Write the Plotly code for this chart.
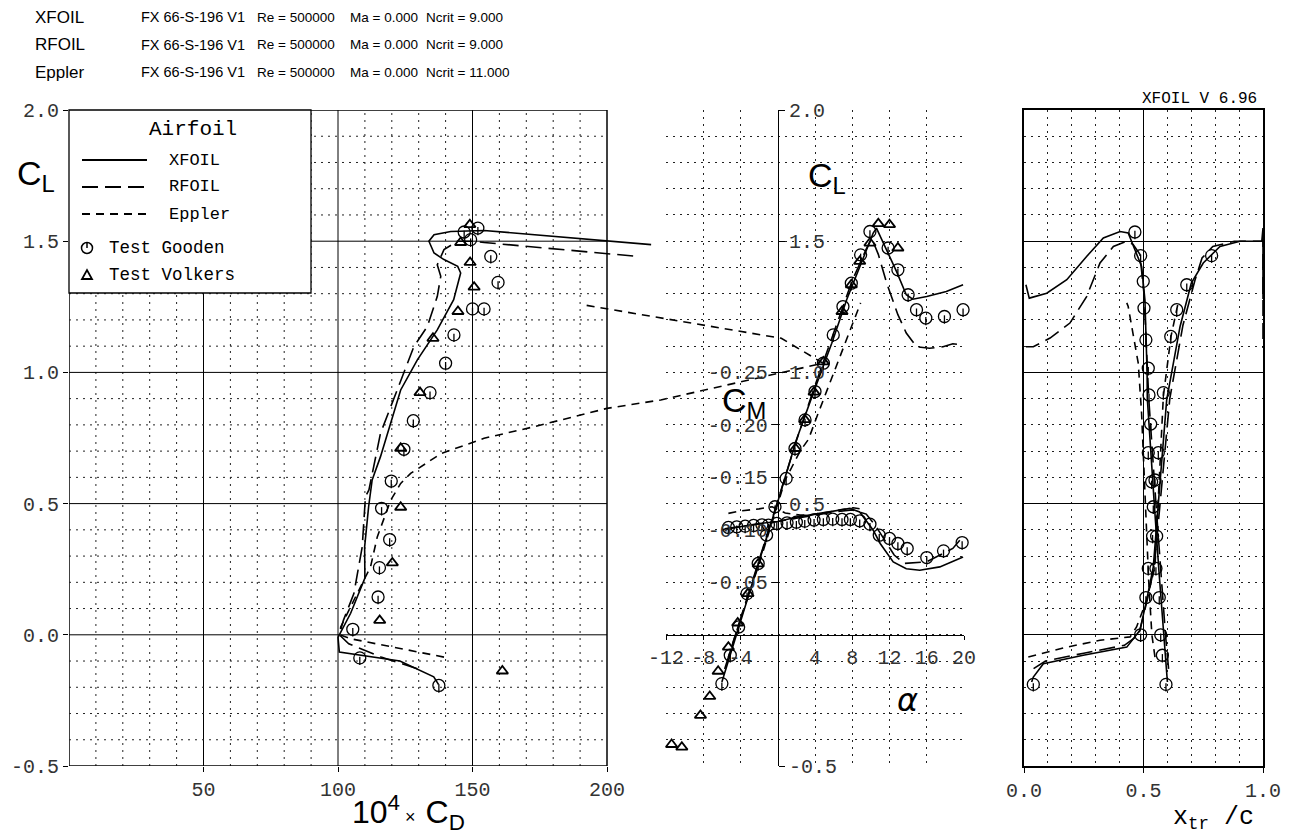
import plotly.graph_objects as go

# the page places the figure 8 px in from the top-left corner; positions below are page pixels
OFF = 8
W, H = 1290 - OFF, 836 - OFF
def fx(p): return (p - OFF) / W
def fy(p): return 1 - (p - OFF) / H

# ---------------- header data ----------------
codes = ["XFOIL", "RFOIL", "Eppler"]
airfoil = "FX 66-S-196 V1"
reynolds = [500000, 500000, 500000]
mach = [0.0, 0.0, 0.0]
ncrit = [9.0, 9.0, 11.0]
version = "XFOIL V 6.96"

# ---------------- drag polar (10^4 CD vs CL) ----------------
xfoil_cd = [137.4, 135.6, 123.0, 107.8, 100.5, 100.0, 104.7, 110.0, 109.9, 111.4, 112.7, 115.8, 120.2, 123.3,
            129.5, 136.9, 143.0, 145.6, 144.5, 139.4, 135.7, 133.8, 135.7, 141.9, 154.3, 200.0, 216.4]
xfoil_cl_d = [-0.19, -0.16, -0.10, -0.077, -0.066, -0.01, 0.082, 0.216, 0.335, 0.49, 0.59, 0.679, 0.83, 0.933,
              1.048, 1.162, 1.277, 1.379, 1.404, 1.43, 1.455, 1.50, 1.525, 1.537, 1.541, 1.50, 1.487]
rfoil_cd = [129.5, 116.0, 104.0, 100.5, 102.0, 105.9, 109.0, 110.2, 111.5, 115.8, 122.0, 128.2, 133.2, 136.9,
            138.2, 136.9, 139.4, 144.4, 150.6, 154.3, 211.4]
rfoil_cl_d = [-0.129, -0.085, -0.034, 0.0, 0.055, 0.157, 0.335, 0.526, 0.552, 0.768, 0.933, 1.098, 1.175, 1.289,
              1.366, 1.41, 1.468, 1.50, 1.50, 1.495, 1.442]
eppler_cd = [139.4, 104.7, 100.8, 101.0, 106.5, 112.1, 114.6, 117.0, 119.6, 123.3, 127.0, 138.2, 154.3, 172.9,
             200.0, 220.0, 280.3, 264.8, 212.7, 191.0]
eppler_cl_d = [-0.085, -0.015, 0.0, 0.03, 0.144, 0.259, 0.373, 0.437, 0.513, 0.577, 0.615, 0.69, 0.749, 0.793,
               0.863, 0.895, 1.035, 1.13, 1.219, 1.258]
gooden_cd = [137.5, 108.1, 105.5, 114.9, 115.4, 119.2, 116.2, 119.8, 124.5, 128.0, 134.2, 140.0, 143.1, 150.0,
             154.3, 159.5, 156.8, 149.3, 146.9, 152.0]
gooden_cl_d = [-0.193, -0.088, 0.021, 0.144, 0.256, 0.363, 0.482, 0.586, 0.707, 0.816, 0.923, 1.035, 1.143, 1.242,
               1.242, 1.343, 1.442, 1.506, 1.535, 1.55]
volkers_cd = [161.1, 115.5, 120.2, 123.3, 123.3, 130.5, 135.3, 144.6, 150.6, 149.1, 145.6, 149.0]
volkers_cl_d = [-0.138, 0.055, 0.274, 0.486, 0.711, 0.923, 1.13, 1.232, 1.325, 1.419, 1.495, 1.563]

# ---------------- lift curve (alpha vs CL) ----------------
xfoil_alpha = [-6.0, -4.0, -2.0, 0.0, 2.0, 3.8, 5.8, 7.4, 9.0, 10.25, 10.6, 11.5, 12.75, 13.8, 14.5, 16.0, 18.1, 19.9]
xfoil_cl = [-0.18, 0.055, 0.28, 0.507, 0.742, 0.92, 1.111, 1.277, 1.423, 1.531, 1.55, 1.48, 1.385, 1.296, 1.279,
            1.289, 1.308, 1.334]
rfoil_alpha = [-5.7, -4.0, -2.0, 0.0, 2.0, 4.0, 6.0, 8.0, 9.5, 10.1, 10.8, 11.7, 12.9, 13.8, 14.9, 16.3, 17.75,
               18.8, 19.7]
rfoil_cl = [-0.13, 0.06, 0.29, 0.51, 0.74, 0.95, 1.15, 1.35, 1.47, 1.51, 1.45, 1.34, 1.22, 1.15, 1.098, 1.092,
            1.098, 1.109, 1.105]
eppler_alpha = [-5.3, -4.0, -2.0, -0.6, 0.8, 2.4, 3.3, 4.2, 5.5, 6.7, 8.1, 8.9]
eppler_cl = [-0.085, 0.06, 0.27, 0.43, 0.59, 0.70, 0.745, 0.831, 0.95, 1.06, 1.188, 1.265]
gooden_alpha = [-6.0, -5.1, -4.2, -3.3, -2.1, -1.2, -0.3, 0.9, 1.85, 2.93, 4.0, 4.9, 5.96, 7.0, 7.9, 8.9, 9.9,
                11.85, 12.9, 14.0, 14.9, 15.9, 17.9, 19.9]
gooden_cl = [-0.186, -0.078, 0.03, 0.157, 0.272, 0.38, 0.488, 0.596, 0.71, 0.819, 0.927, 1.035, 1.143, 1.251,
             1.34, 1.448, 1.537, 1.474, 1.391, 1.296, 1.239, 1.207, 1.213, 1.239]
volkers_alpha = [-11.4, -10.3, -8.3, -7.3, -6.4, -5.3, -4.3, -3.2, -2.1, 1.9, 2.9, 3.9, 4.9, 6.9, 7.9, 8.8, 9.9,
                 10.8, 12.0, 12.9]
volkers_cl = [-0.418, -0.428, -0.307, -0.235, -0.139, -0.047, 0.045, 0.157, 0.27, 0.71, 0.82, 0.925, 1.04, 1.232,
              1.334, 1.423, 1.493, 1.567, 1.563, 1.474]

# ---------------- moment curve (alpha vs CM) ----------------
xfoil_alpha_m = [-6.0, -4.0, -2.0, 0.0, 2.0, 4.0, 6.0, 7.75, 8.8, 10.25, 11.0, 12.4, 13.8, 15.25, 17.4, 19.9]
xfoil_cm = [-0.100, -0.103, -0.106, -0.108, -0.112, -0.115, -0.118, -0.1204, -0.117, -0.0997, -0.087, -0.0695,
            -0.063, -0.0615, -0.0647, -0.0742]
rfoil_alpha_m = [-5.7, -4.0, -2.0, 0.0, 2.0, 4.0, 6.0, 8.0, 9.5, 10.5, 11.5, 12.5, 13.6, 16.0, 18.8, 20.0]
rfoil_cm = [-0.101, -0.103, -0.106, -0.108, -0.111, -0.114, -0.117, -0.119, -0.115, -0.104, -0.09, -0.076,
            -0.068, -0.0695, -0.0823, -0.0949]
eppler_cm = [-0.1157, -0.118, -0.120, -0.122, -0.116, -0.114, -0.114, -0.115, -0.117, -0.119, -0.121, -0.120]
gooden_alpha_m = [-5.3, -4.4, -3.5, -2.6, -1.7, -1.0, -0.1, 1.0, 2.0, 2.9, 3.9, 4.9, 5.9, 6.9, 7.8, 8.8, 9.9,
                  10.9, 12.0, 12.9, 13.9, 16.0, 17.8, 19.8]
gooden_cm = [-0.1023, -0.1029, -0.1035, -0.1042, -0.1048, -0.1045, -0.1061, -0.1067, -0.1073, -0.1083, -0.1093,
             -0.1099, -0.1102, -0.1099, -0.1099, -0.1086, -0.1054, -0.0949, -0.0918, -0.0870, -0.0822, -0.0736,
             -0.0800, -0.0879]

# ---------------- transition (xtr/c vs CL) ----------------
xfoil_top_cl = [-0.18, 0.0, 0.25, 0.5, 0.75, 0.9, 1.0, 1.124, 1.277, 1.404, 1.468, 1.531, 1.537, 1.512, 1.442,
                1.353, 1.302, 1.283, 1.334]
xfoil_top_xtr = [0.60, 0.584, 0.564, 0.545, 0.527, 0.516, 0.515, 0.511, 0.506, 0.492, 0.464, 0.436, 0.402, 0.332,
                 0.262, 0.179, 0.095, 0.022, 0.008]
xfoil_bot_cl = [-0.18, -0.161, -0.11, -0.078, -0.047, 0.017, 0.132, 0.259, 0.5, 0.895, 1.175, 1.34, 1.417, 1.48,
                1.50, 1.50, 1.55, 1.28, 1.334]
xfoil_bot_xtr = [0.032, 0.039, 0.081, 0.248, 0.43, 0.485, 0.513, 0.541, 0.562, 0.597, 0.653, 0.70, 0.75, 0.82,
                 0.904, 0.995, 1.0, 1.0, 1.0]
rfoil_top_cl = [-0.13, 0.0, 0.5, 0.9, 1.1, 1.3, 1.45, 1.487, 1.50, 1.48, 1.417, 1.289, 1.188, 1.131, 1.098, 1.098]
rfoil_top_xtr = [0.605, 0.592, 0.552, 0.522, 0.512, 0.502, 0.485, 0.457, 0.43, 0.374, 0.318, 0.262, 0.192, 0.109,
                 0.039, 0.008]
rfoil_bot_cl = [-0.129, -0.10, -0.07, -0.04, 0.0, 0.13, 0.26, 0.9, 1.18, 1.35, 1.436, 1.48, 1.50, 1.50, 1.277,
                1.093]
rfoil_bot_xtr = [0.04, 0.09, 0.25, 0.42, 0.48, 0.515, 0.545, 0.61, 0.665, 0.715, 0.745, 0.79, 0.88, 1.0, 1.0, 1.0]
eppler_top_cl = [-0.085, 0.0, 0.2, 0.5, 0.844, 1.035, 1.15, 1.251, 1.265]
eppler_top_xtr = [0.548, 0.535, 0.522, 0.508, 0.492, 0.478, 0.457, 0.436, 0.43]
eppler_bot_cl = [-0.085, -0.047, -0.021, -0.008, 0.03, 0.132, 0.259, 0.6, 0.908, 1.137, 1.238, 1.265]
eppler_bot_xtr = [0.018, 0.179, 0.318, 0.444, 0.471, 0.513, 0.548, 0.567, 0.583, 0.615, 0.639, 0.645]
gooden_top_cl = [1.535, 1.445, 1.347, 1.245, 1.124, 1.016, 0.914, 0.803, 0.694, 0.583, 0.488, 0.376, 0.253,
                 0.142, 0.0, -0.078, -0.189]
gooden_top_xtr = [0.464, 0.488, 0.499, 0.502, 0.51, 0.52, 0.523, 0.53, 0.52, 0.534, 0.541, 0.555, 0.552, 0.566,
                  0.572, 0.579, 0.594]
gooden_bot_cl = [1.445, 1.334, 1.239, 1.137, 0.923, 0.694, 0.59, 0.376, 0.253, 0.142, 0.0, -0.189]
gooden_bot_xtr = [0.785, 0.681, 0.639, 0.614, 0.583, 0.562, 0.548, 0.538, 0.52, 0.51, 0.488, 0.039]

# ---------------- styles ----------------
BLACK = "black"
LW = 1.6
STY = {"XFOIL": dict(color=BLACK, width=LW),
       "RFOIL": dict(color=BLACK, width=LW, dash="16px,7px"),
       "Eppler": dict(color=BLACK, width=LW, dash="8px,6px")}
CIRC = dict(symbol="circle-open", size=12, color=BLACK, line=dict(width=1.3, color=BLACK))
CTICK = dict(symbol="line-ns-open", size=6, color=BLACK, line=dict(width=1.3, color=BLACK),
             angle=0, standoff=3)
TRI = dict(symbol="triangle-up-open", size=10, color=BLACK, line=dict(width=1.8, color=BLACK))
MONO = "Liberation Mono, DejaVu Sans Mono, monospace"
SANS = "Liberation Sans, Arial, sans-serif"
TICKFONT = dict(family=MONO, size=20, color="#333")
DOTC = "#222"
DOTD = "2px,5px"

fig = go.Figure()

def line(x, y, name, xa, ya):
    fig.add_trace(go.Scatter(x=x, y=y, mode="lines", line=STY[name], xaxis=xa, yaxis=ya,
                             showlegend=False, hoverinfo="skip"))

def pts(x, y, mk, xa, ya):
    fig.add_trace(go.Scatter(x=x, y=y, mode="markers", marker=mk, xaxis=xa, yaxis=ya,
                             showlegend=False, cliponaxis=False))

def gooden(x, y, xa, ya):
    pts(x, y, CIRC, xa, ya)
    pts(x, y, CTICK, xa, ya)

# left panel (axis extends past CD=200 so the long polars run on, as in the reference)
line(xfoil_cd, xfoil_cl_d, "XFOIL", "x", "y")
line(rfoil_cd, rfoil_cl_d, "RFOIL", "x", "y")
line(eppler_cd, eppler_cl_d, "Eppler", "x", "y")
gooden(gooden_cd, gooden_cl_d, "x", "y")
pts(volkers_cd, volkers_cl_d, TRI, "x", "y")

# middle panel
line(xfoil_alpha, xfoil_cl, "XFOIL", "x2", "y2")
line(rfoil_alpha, rfoil_cl, "RFOIL", "x2", "y2")
line(eppler_alpha, eppler_cl, "Eppler", "x2", "y2")
line(xfoil_alpha_m, xfoil_cm, "XFOIL", "x2", "y3")
line(rfoil_alpha_m, rfoil_cm, "RFOIL", "x2", "y3")
line(eppler_alpha, eppler_cm, "Eppler", "x2", "y3")
gooden(gooden_alpha, gooden_cl, "x2", "y2")
pts(volkers_alpha, volkers_cl, TRI, "x2", "y2")
gooden(gooden_alpha_m, gooden_cm, "x2", "y3")

# right panel
line(xfoil_top_xtr, xfoil_top_cl, "XFOIL", "x3", "y4")
line(xfoil_bot_xtr, xfoil_bot_cl, "XFOIL", "x3", "y4")
line(rfoil_top_xtr, rfoil_top_cl, "RFOIL", "x3", "y4")
line(rfoil_bot_xtr, rfoil_bot_cl, "RFOIL", "x3", "y4")
line(eppler_top_xtr, eppler_top_cl, "Eppler", "x3", "y4")
line(eppler_bot_xtr, eppler_bot_cl, "Eppler", "x3", "y4")
gooden(gooden_top_xtr, gooden_top_cl, "x3", "y4")
gooden(gooden_bot_xtr, gooden_bot_cl, "x3", "y4")

# ---------------- axes ----------------
CL_RANGE = [-0.5, 2.0]
YDOM = [fy(766), fy(110)]
cl_ticks = [-0.5, 0.0, 0.5, 1.0, 1.5, 2.0]
CD_MAX = 200

def minor(d, t0=0):
    return dict(tickmode="linear", tick0=t0, dtick=d, showgrid=True, gridcolor=DOTC, griddash=DOTD,
                gridwidth=1, ticks="")

frame = dict(showline=True, linecolor=BLACK, linewidth=1.5, mirror=True, zeroline=False,
             showgrid=True, gridcolor=BLACK, gridwidth=1, ticks="outside", ticklen=5, tickcolor=BLACK,
             tickfont=TICKFONT)

L0, L200, LWIDE = 69, 607, 880
x_wide_max = CD_MAX * (LWIDE - L0) / (L200 - L0)

M0, M1 = 666, 964
a_range = [-12, 20]
alpha0_pos = fx(M0) + (0 - a_range[0]) / (a_range[1] - a_range[0]) * (fx(M1) - fx(M0))
cl0_pos = YDOM[0] + (0 - CL_RANGE[0]) / (CL_RANGE[1] - CL_RANGE[0]) * (YDOM[1] - YDOM[0])
cm_range = [-CL_RANGE[0] / 4, -CL_RANGE[1] / 4]
alpha_ticks = [-12, -8, -4, 4, 8, 12, 16, 20]
cm_ticks = [-0.25, -0.20, -0.15, -0.10, -0.05]
xtr_ticks = [0.0, 0.5, 1.0]

fig.update_layout(
    width=W, height=H, margin=dict(l=0, r=0, t=0, b=0, pad=0, autoexpand=False),
    paper_bgcolor="white", plot_bgcolor="rgba(0,0,0,0)", showlegend=False,
    xaxis=dict(domain=[fx(L0), fx(LWIDE)], range=[0, x_wide_max], anchor="y",
               tickmode="array", tickvals=[50, 100, 150, 200],
               ticks="outside", ticklen=5, tickcolor=BLACK, tickfont=TICKFONT,
               showgrid=False, showline=False, zeroline=False),
    yaxis=dict(domain=YDOM, range=CL_RANGE, anchor="x",
               tickmode="array", tickvals=cl_ticks, ticktext=[f"{v:.1f}" for v in cl_ticks],
               ticks="outside", ticklen=5, tickcolor=BLACK, tickfont=TICKFONT,
               showgrid=False, showline=False, zeroline=False),
    xaxis2=dict(domain=[fx(M0), fx(M1)], range=a_range, anchor="free", position=cl0_pos,
                tickmode="array", tickvals=alpha_ticks, ticktext=[str(v) for v in alpha_ticks],
                ticks="outside", ticklen=4, tickcolor=BLACK, tickfont=TICKFONT,
                showgrid=True, gridcolor=DOTC, griddash=DOTD, gridwidth=1,
                showline=True, linecolor=BLACK, linewidth=1.3, zeroline=False),
    yaxis2=dict(domain=YDOM, range=CL_RANGE, anchor="free", position=alpha0_pos, side="right",
                tickmode="array", tickvals=[-0.5, 0.5, 1.0, 1.5, 2.0],
                ticktext=["-0.5", "0.5", "1.0", "1.5", "2.0"],
                ticks="outside", ticklen=6, tickcolor=BLACK, tickfont=TICKFONT,
                showgrid=True, gridcolor=DOTC, griddash=DOTD, gridwidth=1, minor=minor(0.1),
                showline=True, linecolor=BLACK, linewidth=1.3, zeroline=False),
    yaxis3=dict(overlaying="y2", range=cm_range, anchor="free", position=alpha0_pos, side="left",
                tickmode="array", tickvals=cm_ticks, ticktext=[f"{v:.2f}" for v in cm_ticks],
                ticks="outside", ticklen=6, tickcolor=BLACK, tickfont=TICKFONT,
                showgrid=False, showline=False, zeroline=False),
    xaxis3=dict(domain=[fx(1024), fx(1263)], range=[0, 1], anchor="y4",
                tickmode="array", tickvals=xtr_ticks, ticktext=[f"{v:.1f}" for v in xtr_ticks],
                minor=minor(0.1), **frame),
    yaxis4=dict(domain=YDOM, range=CL_RANGE, anchor="x3",
                tickmode="array", tickvals=cl_ticks, showticklabels=False,
                minor=minor(0.1), **{k: v for k, v in frame.items() if k != "ticks"}, ticks=""),
)

# ---------------- left-panel grid & frame (only up to CD = 200) ----------------
shapes = []
for k in range(0, CD_MAX + 1, 10):
    major = k % 50 == 0
    shapes.append(dict(type="line", xref="x", yref="y", x0=k, x1=k, y0=CL_RANGE[0], y1=CL_RANGE[1],
                       line=dict(color=BLACK if major else DOTC, width=1.5 if k in (0, CD_MAX) else 1,
                                 dash="solid" if major else DOTD), layer="below"))
for k in range(-5, 21):
    v = k / 10
    major = k % 5 == 0
    shapes.append(dict(type="line", xref="x", yref="y", x0=0, x1=CD_MAX, y0=v, y1=v,
                       line=dict(color=BLACK if major else DOTC, width=1.5 if k in (-5, 20) else 1,
                                 dash="solid" if major else DOTD), layer="below"))

# ---------------- legend box (manual) ----------------
shapes.append(dict(type="rect", xref="paper", yref="paper", x0=fx(69), x1=fx(311), y0=fy(293), y1=fy(110),
                   fillcolor="white", line=dict(color=BLACK, width=1.3), layer="above"))
for name, yy in zip(codes, [160, 187, 214]):
    st = STY[name]
    shapes.append(dict(type="line", xref="paper", yref="paper", x0=fx(82), x1=fx(147), y0=fy(yy), y1=fy(yy),
                       line=dict(color=BLACK, width=1.8, dash=st.get("dash", "solid")), layer="above"))
shapes.append(dict(type="circle", xref="paper", yref="paper", x0=fx(81.5), x1=fx(92.5), y0=fy(253.5),
                   y1=fy(242.5), line=dict(color=BLACK, width=1.5), layer="above"))
shapes.append(dict(type="line", xref="paper", yref="paper", x0=fx(87), x1=fx(87), y0=fy(243), y1=fy(248),
                   line=dict(color=BLACK, width=1.5), layer="above"))
shapes.append(dict(type="path", xref="paper", yref="paper",
                   path=f"M{fx(82)},{fy(279)} L{fx(92)},{fy(279)} L{fx(87)},{fy(270)} Z",
                   line=dict(color=BLACK, width=1.8), layer="above"))
fig.update_layout(shapes=shapes)

# ---------------- annotations ----------------
ann = []
def txt(x, y, s, size, family=SANS, xanchor="left", yanchor="middle", color=BLACK, **kw):
    ann.append(dict(x=fx(x), y=fy(y), xref="paper", yref="paper", text=s, showarrow=False,
                    xanchor=xanchor, yanchor=yanchor, font=dict(family=family, size=size, color=color, **kw)))

for i, (code, yy) in enumerate(zip(codes, [17, 45, 72])):
    txt(33, yy, code, 17)
    txt(139, yy, airfoil, 14.5)
    txt(255, yy, f"Re = {reynolds[i]}", 13.5)
    txt(348, yy, f"Ma = {mach[i]:.3f}", 13.5)
    txt(424, yy, f"Ncrit = {ncrit[i]:.3f}", 13.5)

txt(1259, 99, version, 16, family=MONO, xanchor="right")

# legend texts
txt(193, 130, "Airfoil", 21, family=MONO, xanchor="center")
for name, yy in zip(codes, [160, 187, 214]):
    txt(167, yy, name, 17, family=MONO)
txt(107, 248, "Test Gooden", 17.5, family=MONO)
txt(107, 275, "Test Volkers", 17.5, family=MONO)

# axis titles
txt(15, 175, "C<sub>L</sub>", 34)
txt(806, 177, "C<sub>L</sub>", 34)
txt(720, 402, "C<sub>M</sub>", 34)
txt(908, 700, "α", 32, family="DejaVu Sans", xanchor="center", style="italic")
txt(408, 812, "10<sup>4</sup><span style='font-size:18px'> ×  </span>C<sub>D</sub>", 32, xanchor="center")
txt(1213, 818, "x<sub>tr</sub> /c", 25, family=MONO, xanchor="center")

fig.update_layout(annotations=ann)
fig.write_html("out.html")
